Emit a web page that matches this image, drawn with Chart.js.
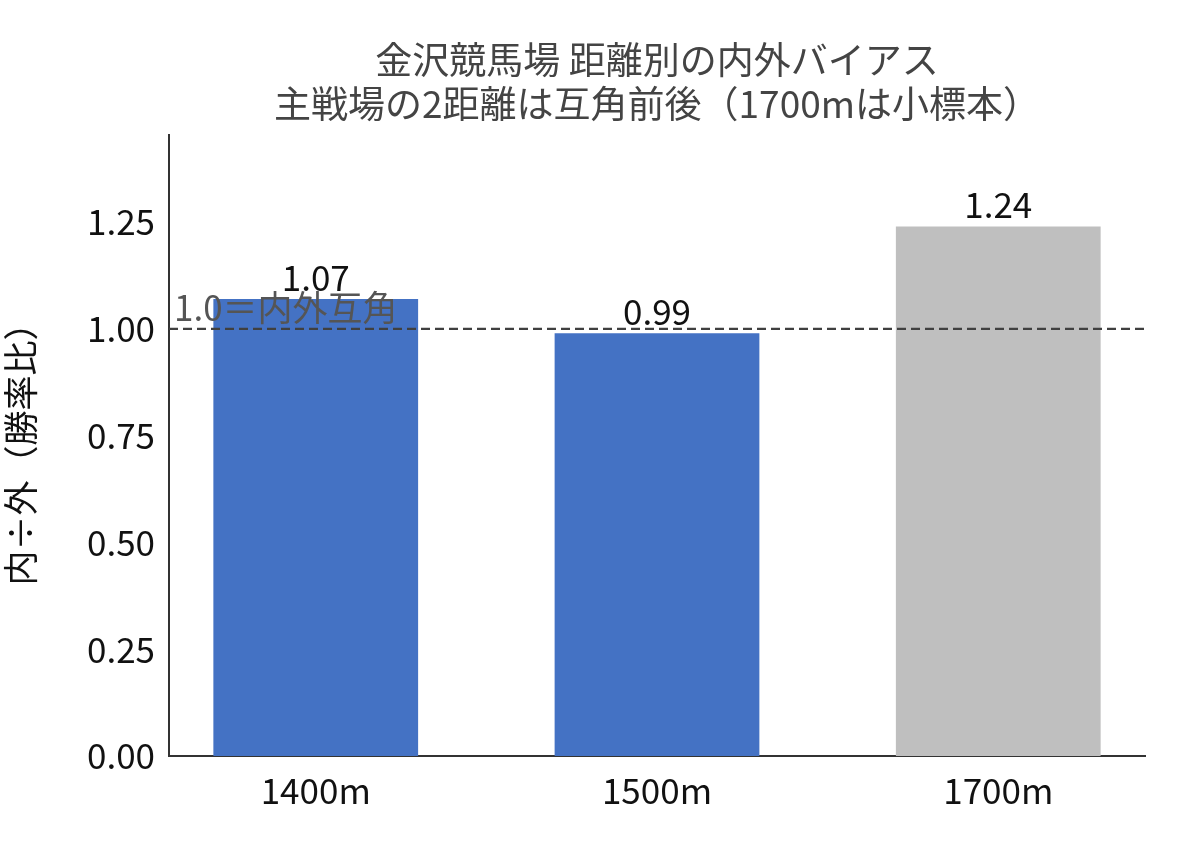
<!DOCTYPE html>
<html>
<head>
<meta charset="utf-8">
<script src="https://cdn.jsdelivr.net/npm/chart.js@4"></script>
<style>
  body { margin: 0; background: #fff; }
  #wrap { width: 1188px; height: 858px; }
</style>
</head>
<body>
<div id="wrap"><canvas id="canvas" width="1188" height="858"></canvas></div>
<script>
const distances = ["1400m", "1500m", "1700m"];
const ratios = [1.07, 0.99, 1.24];
const barColors = ["#4472C4", "#4472C4", "#BFBFBF"];
const titleLines = ["金沢競馬場 距離別の内外バイアス", "主戦場の2距離は互角前後（1700mは小標本）"];
const refValue = 1.0;
const refLabel = "1.0＝内外互角";
const yTicks = [0, 0.25, 0.5, 0.75, 1.0, 1.25];

const FONT = "'Noto Sans CJK JP', 'Noto Sans', sans-serif";

// 基準線・注記・数値ラベル・タイトル
const extras = {
  id: "extras",
  afterDatasetsDraw(chart) {
    const { ctx, chartArea, scales } = chart;
    const y1 = scales.y.getPixelForValue(refValue);
    ctx.save();
    ctx.strokeStyle = "#404040";
    ctx.lineWidth = 2.2;
    ctx.setLineDash([9, 5]);
    ctx.beginPath();
    ctx.moveTo(chartArea.left, y1);
    ctx.lineTo(chartArea.right, y1);
    ctx.stroke();
    ctx.setLineDash([]);

    ctx.font = "35px " + FONT;
    ctx.fillStyle = "#111";
    ctx.textAlign = "center";
    ctx.textBaseline = "bottom";
    const meta = chart.getDatasetMeta(0);
    meta.data.forEach((bar, i) => {
      ctx.fillText(ratios[i].toFixed(2), bar.x, bar.y - 4);
    });

    ctx.fillStyle = "#555";
    ctx.textAlign = "left";
    ctx.fillText(refLabel, chartArea.left + 5, y1 - 4);

    ctx.fillStyle = "#444";
    ctx.textAlign = "center";
    ctx.font = "37px " + FONT;
    ctx.textBaseline = "middle";
    const cx = (chartArea.left + chartArea.right) / 2;
    ctx.fillText(titleLines[0], cx, 60);
    ctx.fillText(titleLines[1], cx, 104);
    ctx.restore();
  }
};

new Chart(document.getElementById("canvas").getContext("2d"), {
  type: "bar",
  data: {
    datasets: [{
      data: ratios.map((v, i) => ({ x: i, y: v })),
      backgroundColor: barColors,
      borderWidth: 0,
      categoryPercentage: 1,
      barPercentage: 0.6
    }]
  },
  options: {
    responsive: false,
    animation: false,
    layout: { padding: { top: 135, right: 43, left: 0, bottom: 0 } },
    plugins: { legend: { display: false }, tooltip: { enabled: false }, title: { display: false } },
    scales: {
      x: {
        type: "linear",
        offset: false,
        min: -0.43,
        max: 2.43,
        afterBuildTicks: (s) => { s.ticks = distances.map((_, i) => ({ value: i })); },
        afterFit: (s) => { s.height = 102; },
        ticks: {
          callback: (v) => distances[v],
          font: { size: 35, family: FONT },
          color: "#111",
          padding: 6
        },
        grid: { display: false, drawTicks: true, tickLength: 8, tickColor: "#333" },
        border: { color: "#333", width: 2 }
      },
      y: {
        min: 0,
        max: 1.454,
        afterBuildTicks: (s) => { s.ticks = yTicks.map((v) => ({ value: v })); },
        afterFit: (s) => { s.width = 169; },
        ticks: {
          callback: (v) => v.toFixed(2),
          font: { size: 35, family: FONT },
          color: "#111",
          padding: 6
        },
        title: {
          display: true,
          text: "内÷外（勝率比）",
          font: { size: 35, family: FONT },
          color: "#111",
          padding: 0
        },
        grid: { display: false, drawTicks: true, tickLength: 8, tickColor: "#333" },
        border: { color: "#333", width: 2 }
      }
    }
  },
  plugins: [extras]
});
</script>
</body>
</html>
